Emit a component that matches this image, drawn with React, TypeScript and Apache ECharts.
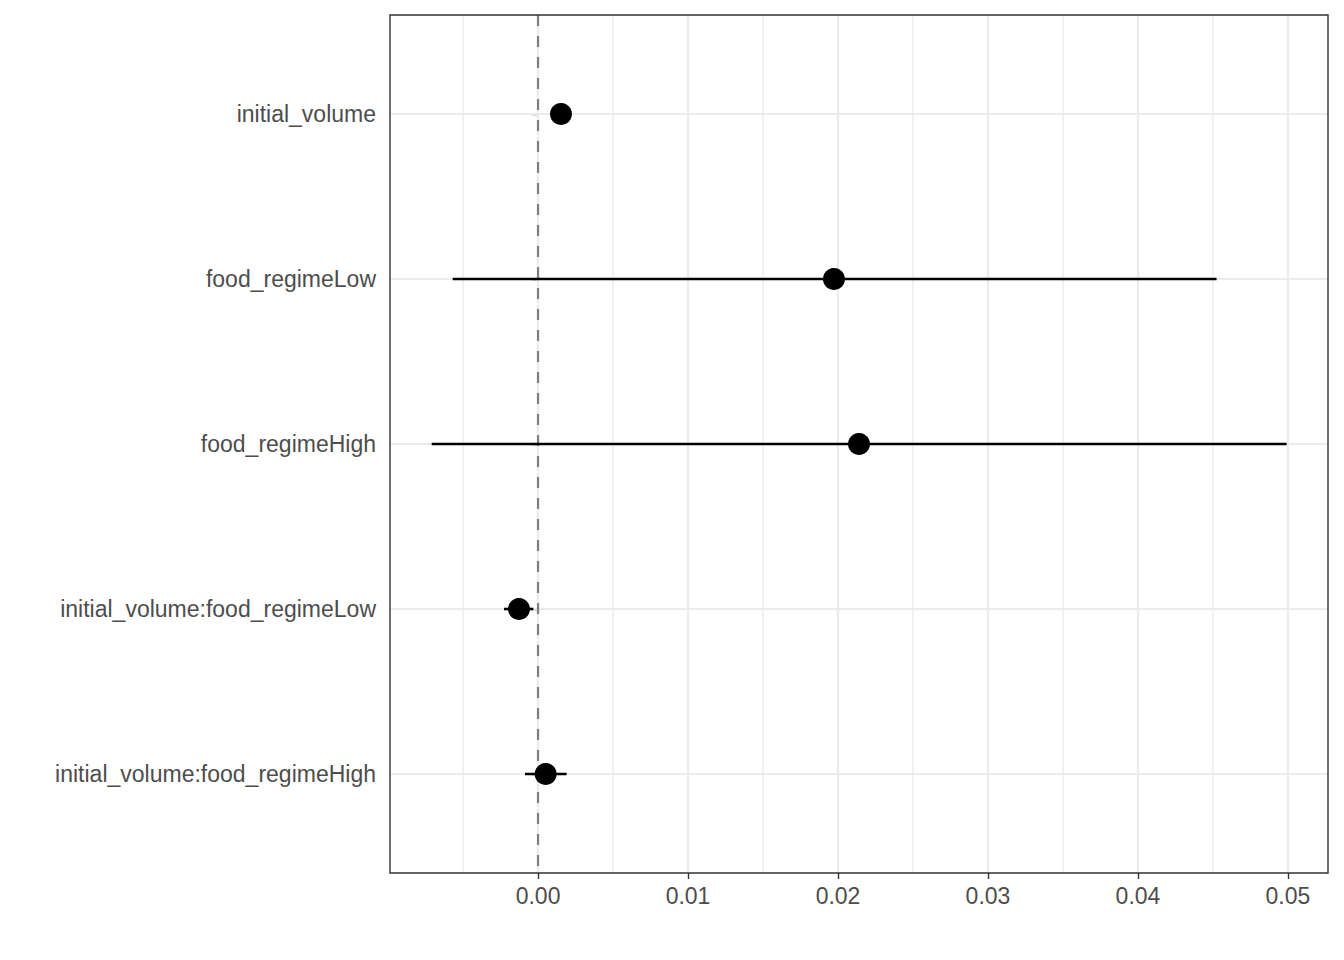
import React, { useEffect, useRef } from "react";
import * as echarts from "echarts";

const terms = [
  "initial_volume",
  "food_regimeLow",
  "food_regimeHigh",
  "initial_volume:food_regimeLow",
  "initial_volume:food_regimeHigh",
];
const estimates = [0.00153, 0.01973, 0.0214, -0.00127, 0.00051];
const lower = [0.0009, -0.00569, -0.00709, -0.00227, -0.00087];
const upper = [0.0022, 0.04524, 0.04991, -0.00031, 0.00191];
const xTicks = [0, 0.01, 0.02, 0.03, 0.04, 0.05];
const xMinor = [-0.005, 0.005, 0.015, 0.025, 0.035, 0.045];

export default function App() {
  const ref = useRef<HTMLDivElement>(null);
  useEffect(() => {
    if (!ref.current) return;
    const chart = echarts.init(ref.current, undefined, { renderer: "svg" });
    const idx = terms.map((_, i) => i + 1);
    const font = "'Liberation Sans', Arial, Helvetica, sans-serif";
    // grid line items: [xValue or null, yValue or null, width]
    const gridItems: any[] = [
      ...xMinor.map((v) => [v, 1, 1.3, 0]),
      ...xTicks.map((v) => [v, 1, 2.2, 0]),
      ...idx.map((v) => [0, v, 2.2, 1]),
    ];
    chart.setOption({
      animation: false,
      backgroundColor: "#ffffff",
      grid: {
        left: 390,
        right: 16,
        top: 15,
        bottom: 87,
        show: true,
        borderColor: "#333333",
        borderWidth: 1.4,
        backgroundColor: "transparent",
        z: 10,
      },
      xAxis: {
        type: "value",
        min: -0.00987,
        max: 0.05267,
        axisLine: { show: false },
        splitLine: { show: false },
        axisTick: {
          show: true,
          customValues: xTicks,
          length: 6,
          lineStyle: { color: "#333333", width: 1.4 },
        },
        axisLabel: {
          customValues: xTicks,
          formatter: (v: number) => v.toFixed(2),
          color: "#4d4d4d",
          fontSize: 23,
          fontFamily: font,
          margin: 11,
        },
      },
      yAxis: {
        type: "value",
        inverse: true,
        min: 0.4,
        max: 5.6,
        axisLine: { show: false },
        splitLine: { show: false },
        axisTick: {
          show: true,
          customValues: idx,
          length: 6,
          lineStyle: { color: "#333333", width: 1.4 },
        },
        axisLabel: {
          customValues: idx,
          formatter: (v: number) => terms[Math.round(v) - 1] ?? "",
          color: "#4d4d4d",
          fontSize: 23,
          fontFamily: font,
          margin: 14,
        },
      },
      series: [
        {
          type: "custom",
          z: 1,
          silent: true,
          clip: true,
          data: gridItems,
          encode: { x: 0, y: 1 },
          renderItem: (params: any, api: any) => {
            const cs = params.coordSys;
            const p = api.coord([api.value(0), api.value(1)]);
            const horizontal = api.value(3) === 1;
            const shape = horizontal
              ? { x1: cs.x, y1: p[1], x2: cs.x + cs.width, y2: p[1] }
              : { x1: p[0], y1: cs.y, x2: p[0], y2: cs.y + cs.height };
            return {
              type: "line",
              shape,
              style: { stroke: "#ebebeb", lineWidth: api.value(2) },
            };
          },
        },
        {
          type: "custom",
          z: 2,
          silent: true,
          data: [[0, 1]],
          encode: { x: 0, y: 1 },
          renderItem: (params: any, api: any) => {
            const cs = params.coordSys;
            const p = api.coord([api.value(0), api.value(1)]);
            return {
              type: "line",
              shape: { x1: p[0], y1: cs.y, x2: p[0], y2: cs.y + cs.height },
              style: { stroke: "#7f7f7f", lineWidth: 2.2, lineDash: [11, 10] },
            };
          },
        },
        {
          type: "custom",
          z: 3,
          silent: true,
          data: terms.map((_, i) => [lower[i], i + 1, upper[i]]),
          encode: { x: [0, 2], y: 1 },
          renderItem: (params: any, api: any) => {
            const p1 = api.coord([api.value(0), api.value(1)]);
            const p2 = api.coord([api.value(2), api.value(1)]);
            return {
              type: "line",
              shape: { x1: p1[0], y1: p1[1], x2: p2[0], y2: p2[1] },
              style: { stroke: "#000000", lineWidth: 2.6 },
            };
          },
        },
        {
          type: "scatter",
          z: 4,
          silent: true,
          symbol: "circle",
          symbolSize: 22,
          itemStyle: { color: "#000000", opacity: 1 },
          data: terms.map((_, i) => [estimates[i], i + 1]),
        },
      ],
    });
    return () => chart.dispose();
  }, []);
  return <div ref={ref} style={{ width: 1344, height: 960, margin: -8 }} />;
}
